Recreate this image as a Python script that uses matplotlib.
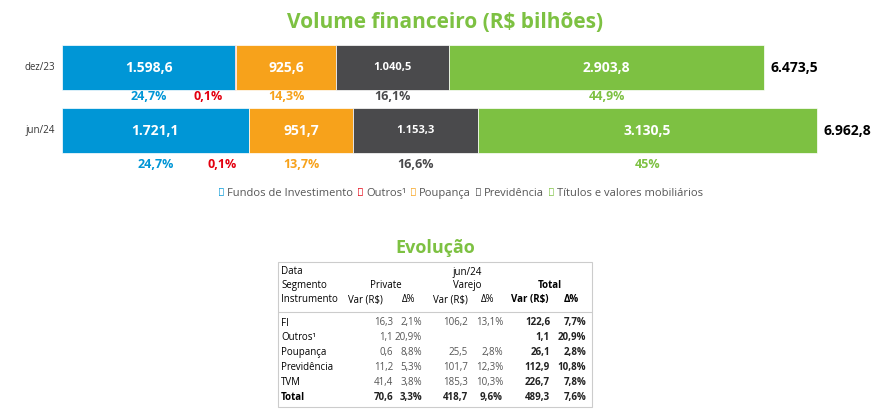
import matplotlib.pyplot as plt

periods = ['dez/23', 'jun/24']
series = ['Fundos de Investimento', 'Outros¹', 'Poupança', 'Previdência', 'Títulos e valores mobiliários']
colors = ['#0096D6', '#E3000F', '#F7A21B', '#4A4A4C', '#7DC142']
values = {
    'dez/23': [1598.6, 5.0, 925.6, 1040.5, 2903.8],
    'jun/24': [1721.1, 6.2, 951.7, 1153.3, 3130.5],
}
shares = {
    'dez/23': ['24,7%', '0,1%', '14,3%', '16,1%', '44,9%'],
    'jun/24': ['24,7%', '0,1%', '13,7%', '16,6%', '45%'],
}
totals = ['6.473,5', '6.962,8']

table_rows = ['FI', 'Outros¹', 'Poupança', 'Previdência', 'TVM', 'Total']
private_var = ['16,3', '1,1', '0,6', '11,2', '41,4', '70,6']
private_pct = ['2,1%', '20,9%', '8,8%', '5,3%', '3,8%', '3,3%']
varejo_var = ['106,2', '', '25,5', '101,7', '185,3', '418,7']
varejo_pct = ['13,1%', '', '2,8%', '12,3%', '10,3%', '9,6%']
total_var = ['122,6', '1,1', '26,1', '112,9', '226,7', '489,3']
total_pct = ['7,7%', '20,9%', '2,8%', '10,8%', '7,8%', '7,6%']

W, H = 889, 410
GREEN = '#7DC142'
plt.rcParams['font.family'] = 'Open Sans'

fig = plt.figure(figsize=(W / 100, H / 100), dpi=100)


def fx(px):
    return px / W


def fy(py):
    return 1 - py / H


# bars: axes spans pixel x 62..889, y 40..180
ax = fig.add_axes([fx(62), fy(180), fx(W - 62), (180 - 40) / H])
ax.set_xlim(0, 827 / 0.1085)
ax.set_ylim(180, 40)
ax.axis('off')

bar_y = [68, 131]
bar_h = 45
label_y = [97, 165]
for i, p in enumerate(periods):
    left = 0
    for j, v in enumerate(values[p]):
        ax.barh(bar_y[i], v, left=left, height=bar_h, color=colors[j], edgecolor='white', linewidth=0.5)
        cx = left + v / 2
        if j != 1:
            fs = 8 if j == 3 else 10
            ax.text(cx, bar_y[i], f'{v:,.1f}'.replace(',', 'X').replace('.', ',').replace('X', '.'),
                    ha='center', va='center', color='white', fontsize=fs, fontweight='bold')
        pc_x = cx - 250 if j == 1 else cx
        ax.text(pc_x, label_y[i], shares[p][j], ha='center', va='center',
                color=colors[j], fontsize=9, fontweight='bold')
        left += v
    ax.text(left + 60, bar_y[i], totals[i], ha='left', va='center', fontsize=10, fontweight='bold')
    fig.text(fx(55), fy(40 + (bar_y[i] - 40)), p, ha='right', va='center', fontsize=7, color='#333333')

fig.text(fx(445), fy(22), 'Volume financeiro (R$ bilhões)', ha='center', va='center',
         fontsize=15, fontweight='bold', color=GREEN)

# legend
lx = 218
for j, s in enumerate(series):
    fig.text(fx(lx), fy(194), '●', ha='left', va='center', fontsize=8, color=colors[j])
    t = fig.text(fx(lx + 9), fy(194), s, ha='left', va='center', fontsize=8, color='#555555')
    fig.canvas.draw()
    bb = t.get_window_extent()
    lx = bb.x1 + 4

# table
fig.text(fx(435), fy(248), 'Evolução', ha='center', va='center', fontsize=13, fontweight='bold', color=GREEN)
box = plt.Rectangle((fx(278), fy(408)), fx(314), (408 - 263) / H, transform=fig.transFigure,
                    fill=False, edgecolor='#CCCCCC', linewidth=0.8)
fig.add_artist(box)
fig.add_artist(plt.Line2D([fx(279), fx(591)], [fy(313), fy(313)], transform=fig.transFigure,
                          color='#CCCCCC', linewidth=0.8))
hs = 7
fig.text(fx(281), fy(272), 'Data', fontsize=hs, va='center')
fig.text(fx(281), fy(286), 'Segmento', fontsize=hs, va='center')
fig.text(fx(281), fy(300), 'Instrumento', fontsize=hs, va='center')
fig.text(fx(467), fy(272), 'jun/24', fontsize=hs, va='center', ha='center')
fig.text(fx(386), fy(286), 'Private', fontsize=hs, va='center', ha='center')
fig.text(fx(467), fy(286), 'Varejo', fontsize=hs, va='center', ha='center')
fig.text(fx(550), fy(286), 'Total', fontsize=hs, va='center', ha='center', fontweight='bold')
for x, lab, bold in [(365, 'Var (R$)', False), (409, 'Δ%', False), (450, 'Var (R$)', False),
                     (488, 'Δ%', False), (530, 'Var (R$)', True), (571, 'Δ%', True)]:
    fig.text(fx(x), fy(300), lab, fontsize=hs, va='center', ha='center',
             fontweight='bold' if bold else 'normal')

cols = [(393, private_var), (422, private_pct), (468, varejo_var), (503, varejo_pct),
        (550, total_var), (586, total_pct)]
for r, name in enumerate(table_rows):
    y = fy(323 + r * 15)
    last = r == len(table_rows) - 1
    fig.text(fx(281), y, name, fontsize=hs, va='center', fontweight='bold' if last else 'normal')
    for k, (x, data) in enumerate(cols):
        bold = last or k >= 4
        fig.text(fx(x), y, data[r], fontsize=hs, va='center', ha='right',
                 fontweight='bold' if bold else 'normal', color='#222222' if bold else '#555555')

fig.savefig('out.png', dpi=100)
